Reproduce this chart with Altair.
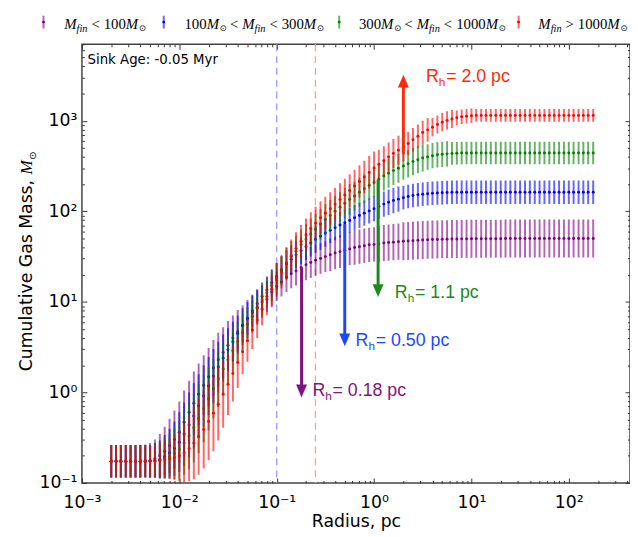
import math
import altair as alt
import pandas as pd

# ---------------- data ----------------
radius_pc = [0.0020, 0.00224, 0.00251, 0.00282, 0.00316, 0.00355, 0.00398, 0.00447, 0.00501, 0.00562,
             0.00631, 0.00708, 0.00794, 0.00891, 0.0100, 0.0112, 0.0126, 0.0141, 0.0158, 0.0178,
             0.0200, 0.0224, 0.0251, 0.0282, 0.0316, 0.0355, 0.0398, 0.0447, 0.0501, 0.0562,
             0.0631, 0.0708, 0.0794, 0.0891, 0.100, 0.112, 0.126, 0.141, 0.158, 0.178,
             0.200, 0.224, 0.251, 0.282, 0.316, 0.355, 0.398, 0.447, 0.501, 0.562,
             0.631, 0.708, 0.794, 0.891, 1.00, 1.12, 1.26, 1.41, 1.58, 1.78,
             2.00, 2.24, 2.51, 2.82, 3.16, 3.55, 3.98, 4.47, 5.01, 5.62,
             6.31, 7.08, 7.94, 8.91, 10.0, 11.2, 12.6, 14.1, 15.8, 17.8,
             20.0, 22.4, 25.1, 28.2, 31.6, 35.5, 39.8, 44.7, 50.1, 56.2,
             63.1, 70.8, 79.4, 89.1, 100, 112, 126, 141, 158, 178]

# log10 of cumulative gas mass (Msun)
logm_lt100 = [-0.76, -0.76, -0.76, -0.76, -0.76, -0.76, -0.76, -0.755, -0.75, -0.73,
              -0.70, -0.65, -0.59, -0.52, -0.44, -0.33, -0.22, -0.12, -0.02, 0.08,
              0.17, 0.27, 0.36, 0.44, 0.52, 0.60, 0.67, 0.74, 0.81, 0.88,
              0.94, 1.00, 1.06, 1.11, 1.17, 1.22, 1.27, 1.31, 1.34, 1.38,
              1.41, 1.435, 1.46, 1.48, 1.50, 1.52, 1.54, 1.555, 1.57, 1.585,
              1.60, 1.61, 1.62, 1.63, 1.635, 1.64, 1.65, 1.655, 1.66, 1.665,
              1.67, 1.673, 1.676, 1.68, 1.683, 1.686, 1.688, 1.69, 1.692, 1.693,
              1.694, 1.695, 1.696, 1.696, 1.697, 1.697, 1.697, 1.698, 1.698, 1.698,
              1.698, 1.699, 1.699, 1.699, 1.699, 1.70, 1.70, 1.70, 1.70, 1.70,
              1.70, 1.70, 1.70, 1.70, 1.70, 1.70, 1.70, 1.70, 1.70, 1.70]
logm_100_300 = [-0.76, -0.76, -0.76, -0.76, -0.76, -0.76, -0.76, -0.76, -0.76, -0.75,
                -0.74, -0.71, -0.67, -0.62, -0.55, -0.46, -0.36, -0.26, -0.15, -0.04,
                0.07, 0.18, 0.28, 0.38, 0.47, 0.56, 0.65, 0.74, 0.82, 0.90,
                0.98, 1.06, 1.13, 1.21, 1.28, 1.35, 1.42, 1.47, 1.52, 1.565,
                1.61, 1.65, 1.69, 1.725, 1.76, 1.79, 1.82, 1.85, 1.875, 1.90,
                1.93, 1.955, 1.98, 2.005, 2.03, 2.055, 2.08, 2.10, 2.12, 2.135,
                2.15, 2.163, 2.175, 2.183, 2.19, 2.195, 2.20, 2.203, 2.206, 2.208,
                2.21, 2.21, 2.21, 2.21, 2.21, 2.21, 2.21, 2.21, 2.21, 2.21,
                2.21, 2.21, 2.21, 2.21, 2.21, 2.21, 2.21, 2.21, 2.21, 2.21,
                2.21, 2.21, 2.21, 2.21, 2.21, 2.21, 2.21, 2.21, 2.21, 2.21]
logm_300_1000 = [-0.76, -0.76, -0.76, -0.76, -0.76, -0.76, -0.76, -0.76, -0.76, -0.755,
                 -0.75, -0.73, -0.71, -0.675, -0.63, -0.56, -0.48, -0.39, -0.29, -0.18,
                 -0.07, 0.04, 0.15, 0.26, 0.36, 0.46, 0.56, 0.66, 0.75, 0.84,
                 0.93, 1.02, 1.10, 1.18, 1.26, 1.345, 1.43, 1.50, 1.56, 1.63,
                 1.69, 1.75, 1.80, 1.86, 1.91, 1.955, 2.00, 2.045, 2.09, 2.13,
                 2.17, 2.21, 2.25, 2.285, 2.32, 2.355, 2.39, 2.42, 2.45, 2.475,
                 2.50, 2.525, 2.55, 2.57, 2.59, 2.60, 2.615, 2.625, 2.63, 2.635,
                 2.64, 2.642, 2.645, 2.645, 2.645, 2.645, 2.645, 2.645, 2.645, 2.645,
                 2.645, 2.645, 2.645, 2.645, 2.645, 2.645, 2.645, 2.645, 2.645, 2.645,
                 2.645, 2.645, 2.645, 2.645, 2.645, 2.645, 2.645, 2.645, 2.645, 2.645]
logm_gt1000 = [-0.76, -0.76, -0.76, -0.76, -0.76, -0.76, -0.76, -0.76, -0.76, -0.76,
               -0.755, -0.745, -0.73, -0.72, -0.70, -0.67, -0.62, -0.56, -0.49, -0.41,
               -0.32, -0.23, -0.13, -0.02, 0.09, 0.21, 0.33, 0.45, 0.57, 0.69,
               0.80, 0.92, 1.03, 1.14, 1.24, 1.33, 1.42, 1.51, 1.59, 1.67,
               1.74, 1.81, 1.87, 1.93, 1.98, 2.03, 2.08, 2.13, 2.18, 2.23,
               2.28, 2.33, 2.38, 2.43, 2.48, 2.52, 2.56, 2.60, 2.64, 2.675,
               2.71, 2.75, 2.79, 2.83, 2.87, 2.90, 2.93, 2.96, 2.985, 3.005,
               3.02, 3.035, 3.045, 3.05, 3.055, 3.06, 3.06, 3.06, 3.06, 3.06,
               3.06, 3.06, 3.06, 3.06, 3.06, 3.06, 3.06, 3.06, 3.06, 3.06,
               3.06, 3.06, 3.06, 3.06, 3.06, 3.06, 3.06, 3.06, 3.06, 3.06]

# error-bar half widths in dex
err_lt100 = [0.18, 0.18, 0.18, 0.18, 0.18, 0.18, 0.18, 0.18, 0.19, 0.21,
             0.24, 0.27, 0.30, 0.32, 0.34, 0.35, 0.35, 0.35, 0.34, 0.33,
             0.32, 0.31, 0.30, 0.28, 0.27, 0.25, 0.24, 0.22, 0.21, 0.20,
             0.19, 0.18, 0.17, 0.17, 0.16, 0.16, 0.16, 0.16, 0.16, 0.16,
             0.17, 0.17, 0.17, 0.17, 0.17, 0.18, 0.18, 0.18, 0.18, 0.18,
             0.19, 0.19, 0.19, 0.19, 0.19, 0.20, 0.20, 0.20, 0.20, 0.20,
             0.21, 0.21, 0.21, 0.21, 0.21, 0.21, 0.21, 0.21, 0.21, 0.21,
             0.21, 0.21, 0.21, 0.21, 0.21, 0.21, 0.21, 0.21, 0.21, 0.21,
             0.21, 0.21, 0.21, 0.21, 0.21, 0.21, 0.21, 0.21, 0.21, 0.21,
             0.21, 0.21, 0.21, 0.21, 0.21, 0.21, 0.21, 0.21, 0.21, 0.21]
err_100_300 = [0.18, 0.18, 0.18, 0.18, 0.18, 0.18, 0.18, 0.18, 0.18, 0.19,
               0.21, 0.24, 0.27, 0.30, 0.33, 0.35, 0.36, 0.36, 0.35, 0.34,
               0.32, 0.30, 0.28, 0.26, 0.24, 0.22, 0.20, 0.19, 0.18, 0.17,
               0.16, 0.155, 0.15, 0.15, 0.15, 0.15, 0.15, 0.15, 0.15, 0.15,
               0.15, 0.15, 0.15, 0.15, 0.15, 0.14, 0.14, 0.14, 0.14, 0.14,
               0.14, 0.14, 0.14, 0.14, 0.14, 0.14, 0.14, 0.14, 0.14, 0.14,
               0.13, 0.13, 0.13, 0.13, 0.13, 0.13, 0.13, 0.13, 0.13, 0.13,
               0.13, 0.13, 0.13, 0.13, 0.13, 0.13, 0.13, 0.13, 0.13, 0.13,
               0.13, 0.13, 0.13, 0.13, 0.13, 0.13, 0.13, 0.13, 0.13, 0.13,
               0.13, 0.13, 0.13, 0.13, 0.13, 0.13, 0.13, 0.13, 0.13, 0.13]
err_300_1000 = [0.18, 0.18, 0.18, 0.18, 0.18, 0.18, 0.18, 0.18, 0.18, 0.185,
                0.20, 0.22, 0.25, 0.28, 0.32, 0.35, 0.37, 0.38, 0.38, 0.37,
                0.35, 0.33, 0.31, 0.28, 0.26, 0.24, 0.22, 0.20, 0.19, 0.18,
                0.17, 0.17, 0.17, 0.17, 0.17, 0.17, 0.17, 0.17, 0.17, 0.17,
                0.17, 0.17, 0.17, 0.17, 0.17, 0.17, 0.17, 0.17, 0.17, 0.17,
                0.16, 0.16, 0.16, 0.16, 0.16, 0.16, 0.16, 0.16, 0.16, 0.16,
                0.15, 0.15, 0.15, 0.15, 0.15, 0.14, 0.14, 0.14, 0.14, 0.14,
                0.125, 0.125, 0.125, 0.125, 0.125, 0.125, 0.125, 0.125, 0.125, 0.125,
                0.125, 0.125, 0.125, 0.125, 0.125, 0.125, 0.125, 0.125, 0.125, 0.125,
                0.125, 0.125, 0.125, 0.125, 0.125, 0.125, 0.125, 0.125, 0.125, 0.125]
err_gt1000 = [0.18, 0.18, 0.18, 0.18, 0.18, 0.18, 0.18, 0.18, 0.18, 0.18,
              0.19, 0.20, 0.22, 0.25, 0.28, 0.32, 0.36, 0.40, 0.42, 0.43,
              0.43, 0.42, 0.40, 0.37, 0.34, 0.31, 0.28, 0.25, 0.23, 0.21,
              0.20, 0.18, 0.18, 0.18, 0.18, 0.18, 0.18, 0.18, 0.18, 0.18,
              0.18, 0.18, 0.18, 0.18, 0.18, 0.18, 0.18, 0.18, 0.18, 0.18,
              0.18, 0.18, 0.18, 0.18, 0.18, 0.16, 0.16, 0.16, 0.16, 0.16,
              0.16, 0.13, 0.13, 0.13, 0.13, 0.13, 0.10, 0.10, 0.10, 0.10,
              0.10, 0.08, 0.08, 0.08, 0.08, 0.07, 0.07, 0.07, 0.07, 0.07,
              0.07, 0.07, 0.07, 0.07, 0.07, 0.07, 0.07, 0.07, 0.07, 0.07,
              0.07, 0.07, 0.07, 0.07, 0.07, 0.07, 0.07, 0.07, 0.07, 0.07]

# half-mass radii arrows (R_h in pc), start and tip of each arrow (log10 Msun)
rh_values = [0.18, 0.50, 1.1, 2.0]
rh_labels = ["0.18", "0.50", "1.1", "2.0"]
arrow_start_log = [1.38, 1.86, 2.35, 2.63]
arrow_tip_log = [-0.055, 0.51, 1.054, 3.51]

ref_radii = [0.1, 0.25]
sink_age_text = "Sink Age: -0.05 Myr"

# ---------------- styling / layout ----------------
W, H = 556, 445
XDOM = [1e-3, 425]
YDOM = [0.1, 7000]
xs = alt.Scale(type="log", domain=XDOM, nice=False)
ys = alt.Scale(type="log", domain=YDOM, nice=False)

series_colors = ["#800080", "#0000ff", "#008000", "#ff0000"]
arrow_colors = ["#80147f", "#1a48ff", "#1a8a1a", "#ff2a0a"]
AX_COL = "#333333"

logs = [logm_lt100, logm_100_300, logm_300_1000, logm_gt1000]
errs = [err_lt100, err_100_300, err_300_1000, err_gt1000]

rows = []
for s, (lm, er) in enumerate(zip(logs, errs)):
    for r, l, e in zip(radius_pc, lm, er):
        rows.append(dict(series=s, r=r, M=10 ** l, lo=10 ** (l - e), hi=10 ** (l + e)))
df = pd.DataFrame(rows)

dummy = pd.DataFrame({"a": [0]})
layers = []

# reference dashed lines
vdf = pd.DataFrame({"r": ref_radii, "c": ["#9b9bff", "#ff9b9b"]})
layers.append(
    alt.Chart(vdf).mark_rule(strokeDash=[7, 5], strokeWidth=1.3).encode(
        x=alt.X("r:Q", scale=xs, axis=None),
        color=alt.Color("c:N", scale=None),
    )
)

# error bars + points
for s in range(4):
    d = df[df["series"] == s]
    layers.append(
        alt.Chart(d).mark_rule(clip=True, strokeWidth=2, opacity=0.6, color=series_colors[s]).encode(
            x=alt.X("r:Q", scale=xs, axis=None),
            y=alt.Y("lo:Q", scale=ys, axis=None),
            y2="hi:Q",
        )
    )
    layers.append(
        alt.Chart(d).mark_circle(size=9, opacity=1, color=series_colors[s]).encode(
            x=alt.X("r:Q", scale=xs, axis=None),
            y=alt.Y("M:Q", scale=ys, axis=None),
        )
    )

# arrows with labels
label_dx = [11, 11, 17, 23]
label_dy = [-1, 0, 1, 7.5]
DOWN = "M-0.85,-1L0.85,-1L0,1Z"
UP = "M-0.85,1L0.85,1L0,-1Z"
for i in range(4):
    up = arrow_tip_log[i] > arrow_start_log[i]
    c = arrow_colors[i]
    adf = pd.DataFrame({"r": [rh_values[i]], "y0": [10 ** arrow_start_log[i]], "y1": [10 ** arrow_tip_log[i]]})
    layers.append(
        alt.Chart(adf).mark_rule(strokeWidth=3, color=c, y2Offset=(6 if up else -6)).encode(
            x=alt.X("r:Q", scale=xs, axis=None),
            y=alt.Y("y0:Q", scale=ys, axis=None),
            y2="y1:Q",
        )
    )
    layers.append(
        alt.Chart(adf).mark_point(shape=(UP if up else DOWN), filled=True, size=169, color=c,
                                  opacity=1, strokeWidth=0, yOffset=(6.5 if up else -6.5)).encode(
            x=alt.X("r:Q", scale=xs, axis=None),
            y=alt.Y("y1:Q", scale=ys, axis=None),
        )
    )
    pieces = [("R", 0, 0, 18), ("h", 13, 4, 12), ("= " + rh_labels[i] + " pc", 20.5, 0, 18)]
    for t, ddx, ddy, fs in pieces:
        layers.append(
            alt.Chart(adf).mark_text(text=t, font="Liberation Sans", fontSize=fs, color=c, align="left",
                                     baseline="alphabetic", dx=label_dx[i] + ddx, dy=label_dy[i] + ddy).encode(
                x=alt.X("r:Q", scale=xs, axis=None),
                y=alt.Y("y1:Q", scale=ys, axis=None),
            )
        )


def txt(text, x, y, size, font, color="#000000", style="normal", angle=0):
    return alt.Chart(dummy).mark_text(text=text, font=font, fontSize=size, fontStyle=style, color=color,
                                      align="left", baseline="alphabetic", angle=angle).encode(
        x=alt.value(x), y=alt.value(y))


# sink age annotation
layers.append(txt(sink_age_text, 5.7, 20, 13.5, "DejaVu Sans"))

# y title (rotated, mixed fonts)
TFS = 17.5
title_main = "Cumulative Gas Mass, "
main_w = 11.407 * TFS
m_w = 0.833 * TFS
tot = main_w + m_w + 7
ty0 = 221 + tot / 2
tx = -51
layers.append(txt(title_main, tx, ty0, TFS, "DejaVu Sans", angle=270))
layers.append(txt("M", tx, ty0 - main_w, TFS, "Liberation Serif", style="italic", angle=270))
layers.append(txt("\u2299", tx + 4, ty0 - main_w - m_w, 10, "DejaVu Sans", angle=270))

# legend (mathtext-like pieces)
IT = {"M": 0.833, "f": 0.278, "i": 0.278, "n": 0.5}
RM = {"0": 0.5, "1": 0.5, "3": 0.5}
LB, LS, LO = 15, 10.5, 8.5
leg_entries = [
    [("M", "it"), ("fin", "sub"), ("<", "rel"), ("100", "rm"), ("M", "it"), ("\u2299", "odot")],
    [("100", "rm"), ("M", "it"), ("\u2299", "odot"), ("<", "rel"), ("M", "it"), ("fin", "sub"),
     ("<", "rel"), ("300", "rm"), ("M", "it"), ("\u2299", "odot")],
    [("300", "rm"), ("M", "it"), ("\u2299", "odot"), ("<", "rel"), ("M", "it"), ("fin", "sub"),
     ("<", "rel"), ("1000", "rm"), ("M", "it"), ("\u2299", "odot")],
    [("M", "it"), ("fin", "sub"), (">", "rel"), ("1000", "rm"), ("M", "it"), ("\u2299", "odot")],
]
marker_x = [-39, 83, 261, 443]
text_x = [-18, 104, 281, 463]
LEG_Y = -16
for k in range(4):
    c = series_colors[k]
    layers.append(alt.Chart(dummy).mark_rule(strokeWidth=2, opacity=0.6, color=c).encode(
        x=alt.value(marker_x[k]), y=alt.value(LEG_Y - 13), y2=alt.value(LEG_Y)))
    layers.append(alt.Chart(dummy).mark_circle(size=9, opacity=1, color=c).encode(
        x=alt.value(marker_x[k]), y=alt.value(LEG_Y - 6.5)))
    x = text_x[k]
    for t, kind in leg_entries[k]:
        if kind == "it":
            layers.append(txt(t, x, LEG_Y, LB, "Liberation Serif", style="italic"))
            x += sum(IT[ch] for ch in t) * LB
        elif kind == "sub":
            layers.append(txt(t, x, LEG_Y + 3.5, LS, "Liberation Serif", style="italic"))
            x += sum(IT[ch] for ch in t) * LS
        elif kind == "rm":
            layers.append(txt(t, x, LEG_Y, LB, "Liberation Serif"))
            x += sum(RM[ch] for ch in t) * LB
        elif kind == "rel":
            x += 4
            layers.append(txt(t, x, LEG_Y, LB, "Liberation Serif"))
            x += 0.564 * LB + 4
        else:
            layers.append(txt(t, x + 0.5, LEG_Y + 3, LO, "DejaVu Sans"))
            x += 0.838 * LO


# ---------------- axes ----------------
SUP = {"-": "\u207b", "0": "\u2070", "1": "\u00b9", "2": "\u00b2", "3": "\u00b3"}


def sup_label(v):
    e = int(round(math.log10(v)))
    return "10" + "".join(SUP[ch] for ch in str(e))


def label_expr(vals):
    return " : ".join(f"datum.value == {v} ? '{sup_label(v)}'" for v in vals) + " : ''"


xmaj = [0.001, 0.01, 0.1, 1, 10, 100]
ymaj = [0.1, 1, 10, 100, 1000]
xmin = [d * 10.0 ** k for k in range(-3, 3) for d in range(2, 10) if d * 10.0 ** k <= XDOM[1]]
ymin = [d * 10.0 ** k for k in range(-1, 4) for d in range(2, 10) if d * 10.0 ** k <= YDOM[1]]

axdf = pd.DataFrame({"r": [1.0], "M": [1.0]})


def axis_layer(xaxis, yaxis):
    return alt.Chart(axdf).mark_point(opacity=0).encode(
        x=alt.X("r:Q", scale=xs, axis=xaxis),
        y=alt.Y("M:Q", scale=ys, axis=yaxis),
    )


common_lbl = dict(ticks=False, tickSize=0, domain=False, grid=False, labelFont="DejaVu Sans",
                  labelFontSize=17.5, labelColor="#000000", labelFlush=False, labelOverlap=False)
x_lab = alt.Axis(orient="bottom", values=xmaj, labelExpr=label_expr(xmaj), labelPadding=11,
                 title="Radius, pc", titleFont="DejaVu Sans", titleFontSize=17.5, titleFontWeight="normal",
                 titleColor="#000000", titleY=44, titleBaseline="alphabetic", **common_lbl)
y_lab = alt.Axis(orient="left", values=ymaj, labelExpr=label_expr(ymaj), labelPadding=5, title="",
                 **common_lbl)
layers.append(axis_layer(x_lab, y_lab))


def tick_axis(orient, offset, vals, size):
    return alt.Axis(orient=orient, offset=offset, values=vals, labels=False, ticks=True, tickSize=size,
                    tickColor=AX_COL, tickWidth=1, domain=False, grid=False, title="")


layers.append(axis_layer(tick_axis("top", -H, xmaj, 5), tick_axis("right", -W, ymaj, 5)))
layers.append(axis_layer(tick_axis("bottom", -H, xmaj, 5), tick_axis("left", -W, ymaj, 5)))
layers.append(axis_layer(tick_axis("top", -H, xmin, 2.5), tick_axis("right", -W, ymin, 2.5)))
layers.append(axis_layer(tick_axis("bottom", -H, xmin, 2.5), tick_axis("left", -W, ymin, 2.5)))

chart = (
    alt.layer(*layers)
    .properties(width=W, height=H, background="white",
                padding={"left": 75, "top": 33, "right": 0, "bottom": 51},
                autosize=alt.AutoSizeParams(type="none"))
    .resolve_axis(x="independent", y="independent")
    .configure_view(stroke="#444444", strokeWidth=1.5)
)

chart.save("out.html", embed_options={"renderer": "svg", "actions": False})
